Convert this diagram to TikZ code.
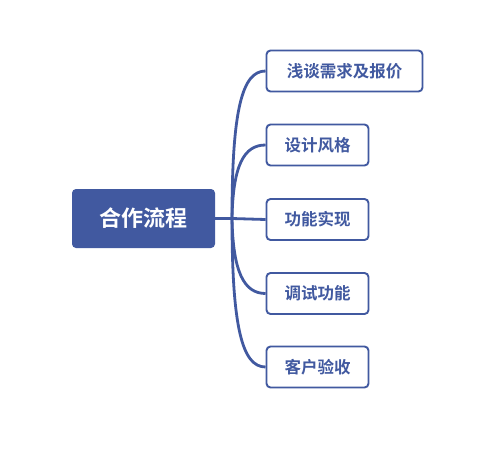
\documentclass[tikz,border=0pt]{standalone}
\usepackage{fontspec}
\newfontfamily\cjk{Noto Sans CJK SC}[BoldFont={Noto Sans CJK SC Bold}]
\definecolor{mblue}{HTML}{4159A0}
\begin{document}
\begin{tikzpicture}[x=1pt,y=-1pt,
  rootbox/.style={fill=mblue,rounded corners=4pt,minimum width=143pt,minimum height=59pt,inner sep=0pt,text=white,font=\cjk\bfseries\fontsize{22}{26}\selectfont},
  leafbox/.style={draw=mblue,line width=1.9pt,fill=white,rounded corners=4pt,minimum height=41pt,inner sep=0pt,text=mblue,font=\cjk\bfseries\fontsize{16.5}{20}\selectfont},
  link/.style={draw=mblue,line width=2.8pt}]
\useasboundingbox (0,0) rectangle (496,456);
\fill[white] (0,0) rectangle (496,456);
\node[rootbox] (root) at (143.5,218.5) {合作流程};
\coordinate (br) at (232,218.5);
\node[leafbox,minimum width=156pt] (c1) at (344.5,71) {浅谈需求及报价};
\node[leafbox,minimum width=102pt] (c2) at (317.5,145) {设计风格};
\node[leafbox,minimum width=102pt] (c3) at (317.5,219.5) {功能实现};
\node[leafbox,minimum width=102pt] (c4) at (317.5,293.5) {调试功能};
\node[leafbox,minimum width=102pt] (c5) at (317.5,367) {客户验收};
\draw[link] (root.east) -- (br) -- (c3.west);
\draw[link] (br) .. controls (232,110) and (242,71) .. (c1.west);
\draw[link] (br) .. controls (233,165) and (244,145) .. (c2.west);
\draw[link] (br) .. controls (233,272) and (244,293.5) .. (c4.west);
\draw[link] (br) .. controls (232,327) and (242,367) .. (c5.west);
\end{tikzpicture}
\end{document}
